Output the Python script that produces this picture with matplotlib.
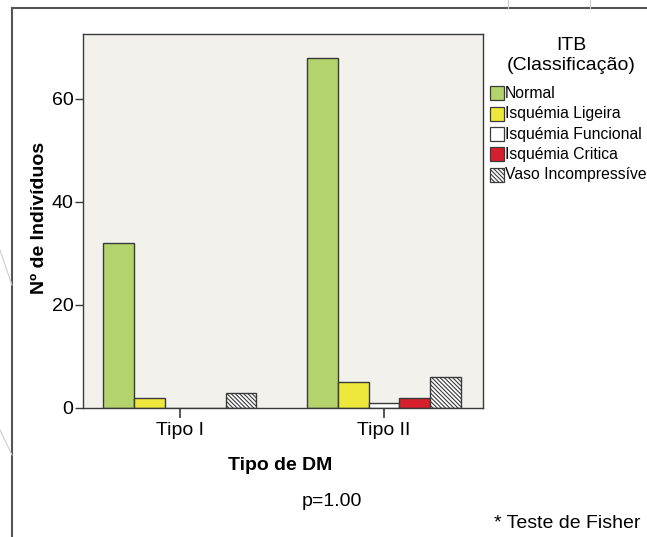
import matplotlib.pyplot as plt
import numpy as np
from matplotlib.lines import Line2D
from matplotlib.patches import Rectangle

plt.rcParams['font.family'] = ['Liberation Sans', 'DejaVu Sans']
plt.rcParams['hatch.color'] = '#3a3a3a'
plt.rcParams['hatch.linewidth'] = 0.8

# data
tipos = ['Tipo I', 'Tipo II']
classes = ['Normal', 'Isquémia Ligeira', 'Isquémia Funcional',
           'Isquémia Critica', 'Vaso Incompressíve']
normal = [32, 68]
ligeira = [2, 5]
funcional = [0, 1]
critica = [0, 2]
vaso = [3, 6]

series = [normal, ligeira, funcional, critica, vaso]
cores = ['#b3d46c', '#efe83c', '#ffffff', '#d61f2c', '#ffffff']
hatches = [None, None, None, None, '\\' * 8]
edge = '#3a3a3a'

W, H = 647, 537
fig = plt.figure(figsize=(W / 100, H / 100), dpi=100)
ax = fig.add_axes([83 / W, 1 - 408 / H, 400 / W, 374 / H])
ax.set_facecolor('#f2f1ec')

x = np.arange(len(tipos))
w = 0.15
for i, vals in enumerate(series):
    ax.bar(x + (i - 2) * w, vals, w, color=cores[i], edgecolor=edge,
           linewidth=1.0, hatch=hatches[i], zorder=2)

ax.set_xlim(-0.475, 1.485)
ax.set_ylim(0, 72.6)
ax.set_yticks([0, 20, 40, 60])
ax.set_xticks(x)
ax.set_xticklabels(tipos)
ax.tick_params(axis='y', labelsize=14, length=6, width=1, color=edge, pad=1)
ax.tick_params(axis='x', labelsize=14, length=7, width=1.2, color=edge, pad=3)
for s in ax.spines.values():
    s.set_color(edge)
    s.set_linewidth(1.0)

ax.set_ylabel('Nº de Indivíduos', fontsize=14, fontweight='bold')
ax.yaxis.set_label_coords(-43 / 400, 0.508)
ax.set_xlabel('Tipo de DM', fontsize=14, fontweight='bold')
ax.xaxis.set_label_coords((280 - 83) / 400, -(465 - 408) / 374)
ax.xaxis.label.set_va('center')
ax.yaxis.label.set_va('center')

fig.text(332 / W, 1 - 501 / H, 'p=1.00', fontsize=14, ha='center', va='center')
fig.text(567 / W, 1 - 523 / H, '* Teste de Fisher', fontsize=14, ha='center', va='center')

# legenda (ITB)
fig.text(571 / W, 1 - 45 / H, 'ITB', fontsize=14, ha='center', va='center')
fig.text(571 / W, 1 - 65 / H, '(Classificação)', fontsize=14, ha='center', va='center')
for i, nome in enumerate(classes):
    yc = 93 + 20.5 * i
    fig.add_artist(Rectangle((490 / W, 1 - (yc + 7) / H), 14 / W, 14 / H,
                             facecolor=cores[i], edgecolor=edge, linewidth=0.9,
                             hatch=hatches[i], transform=fig.transFigure))
    fig.text(505 / W, 1 - yc / H, nome, fontsize=11.3, ha='left', va='center')

# moldura do documento
fig.add_artist(Line2D([12 / W, 12 / W], [0, 1 - 8 / H], color='#555555', lw=1.5))
fig.add_artist(Line2D([12 / W, 1], [1 - 8 / H, 1 - 8 / H], color='#555555', lw=1.5))
fig.add_artist(Line2D([508 / W, 508 / W], [1 - 8 / H, 1], color='#cccccc', lw=0.8))
fig.add_artist(Line2D([590 / W, 590 / W], [1 - 8 / H, 1], color='#cccccc', lw=0.8))
fig.add_artist(Line2D([0, 12 / W], [1 - 250 / H, 1 - 285 / H], color='#cccccc', lw=0.8))
fig.add_artist(Line2D([0, 12 / W], [1 - 430 / H, 1 - 455 / H], color='#cccccc', lw=0.8))

fig.savefig('out.png', dpi=100)
